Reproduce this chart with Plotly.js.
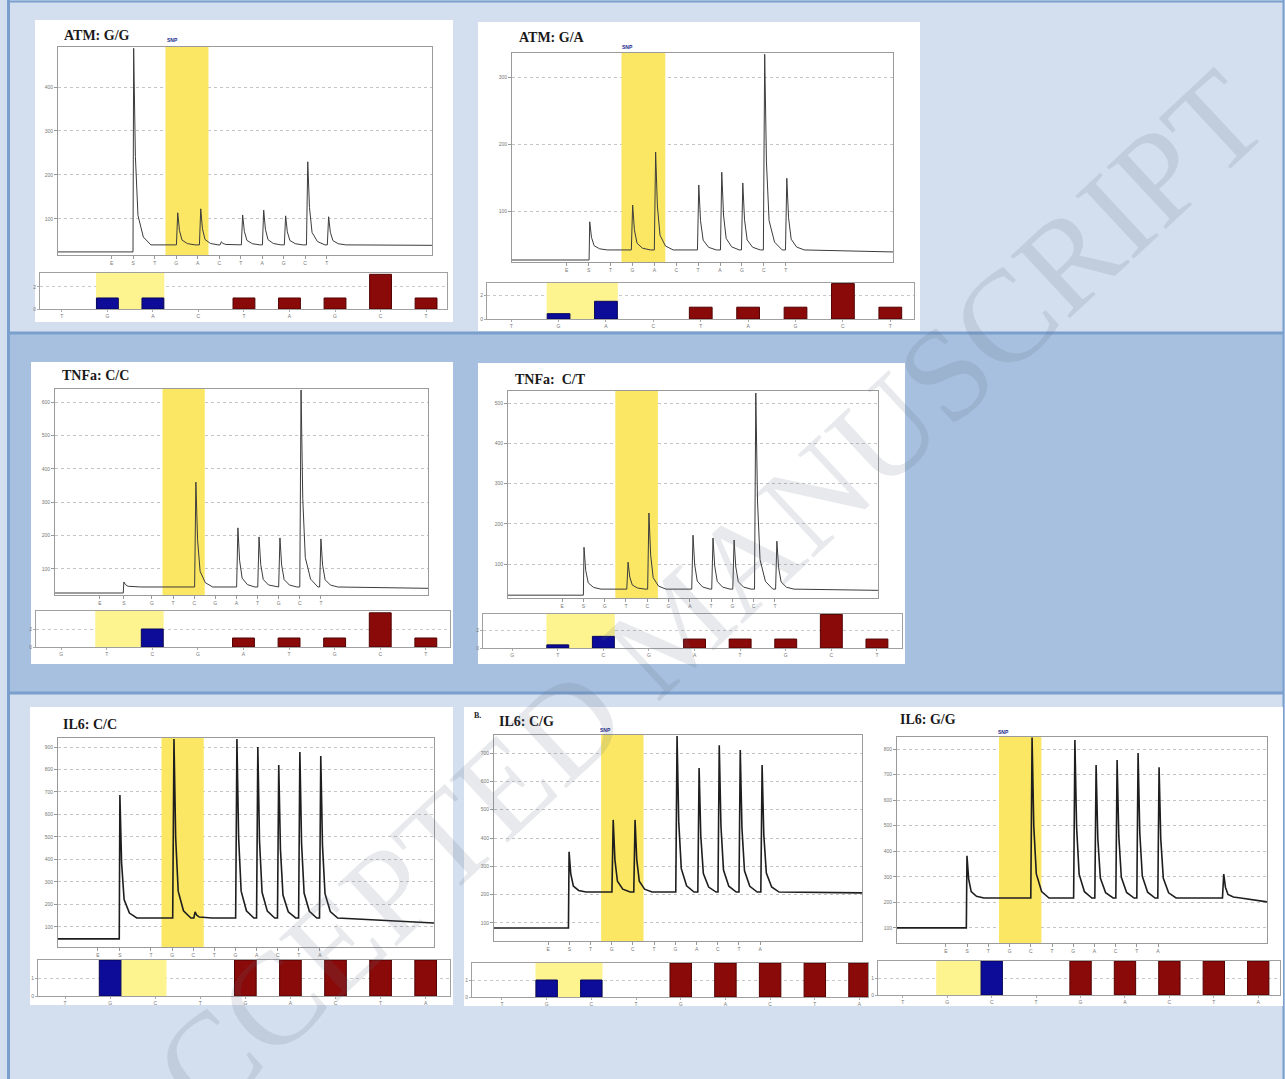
<!DOCTYPE html>
<html><head><meta charset="utf-8">
<script src="https://cdn.plot.ly/plotly-3.0.1.min.js"></script>
<style>html,body{margin:0;padding:0;background:#d3dfee}#chart{width:1285px;height:1079px}</style>
</head><body><div id="chart"></div>
<script>
// ---------- DATA ----------
const titles = ["ATM: G/G", "ATM: G/A", "TNFa: C/C", "TNFa:  C/T", "IL6: C/C", "IL6: C/G", "IL6: G/G"];
const atmLetters = ["E", "S", "T", "G", "A", "C", "T", "A", "G", "C", "T"];
const tnfLetters = ["E", "S", "G", "T", "C", "G", "A", "T", "G", "C", "T"];
const il6Letters = ["E", "S", "T", "G", "C", "T", "G", "A", "C", "T", "A"];

// highlighted SNP window: pyrogram dispensation index range, and histogram category range
const snpWindow = [2.5, 4.5];
const barWindow = [0.75, 2.25];

// pyrogram tick positions (dispensation index)
const stdTicks = [0, 1, 2, 3, 4, 5, 6, 7, 8, 9, 10];
const tnfCCTicks = [-0.46, 0.67, 2, 3, 4, 5, 6, 7, 8, 9, 10];
const il6CCTicks = [-0.51, 0.53, 2, 3, 4, 5, 6, 7, 8, 9, 10];

// pyrogram peaks: positions and heights; levels = [pre-baseline, baseline, end baseline]
const p1PeakX = [1.02, 3.07, 4.14, 5.1, 6.09, 7.07, 8.09, 9.12, 10.09];
const p1PeakY = [488, 114, 123, 48, 109, 120, 107, 230, 105];
const p1Levels = [25, 41, 40];
const p1YTicks = [100, 200, 300, 400];

const p2PeakX = [1.05, 3.01, 4.06, 6.03, 7.08, 8.04, 9.04, 10.05];
const p2PeakY = [84, 109, 188, 139, 158, 142, 334, 149];
const p2Levels = [27, 42, 39];
const p2YTicks = [100, 200, 300];

const p3PeakX = [0.67, 4.08, 6.07, 7.07, 8.06, 9.06, 10.0];
const p3PeakY = [61, 360, 223, 196, 193, 636, 190];
const p3Levels = [28, 46, 42];
const p3YTicks = [100, 200, 300, 400, 500, 600];

const p4PeakX = [1.03, 3.1, 4.08, 6.15, 7.09, 8.08, 9.1, 10.09];
const p4PeakY = [142, 105, 227, 172, 165, 160, 525, 157];
const p4Levels = [23, 38, 35];
const p4YTicks = [100, 200, 300, 400, 500];

const p5PeakX = [0.53, 3.09, 4.09, 6.07, 7.06, 8.05, 9.05, 10.04];
const p5PeakY = [687, 935, 167, 935, 900, 820, 878, 860];
const p5Levels = [47, 140, 118];
const p5YTicks = [100, 200, 300, 400, 500, 600, 700, 800, 900];

const p6PeakX = [0.99, 3.07, 4.1, 6.08, 7.12, 8.07, 9.06, 10.09];
const p6PeakY = [351, 464, 464, 760, 647, 728, 711, 658];
const p6Levels = [82, 209, 206];
const p6YTicks = [100, 200, 300, 400, 500, 600, 700];

const p7PeakX = [0.99, 4.06, 6.08, 7.08, 8.07, 9.06, 10.05, 13.1];
const p7PeakY = [382, 845, 835, 737, 757, 784, 729, 311];
const p7Levels = [100, 217, 202];
const p7YTicks = [100, 200, 300, 400, 500, 600, 700, 800];

// histogram bars (9 dispensations each)
const p1Bars = [0, 1, 1, 0, 1, 1, 1, 3.15, 1];
const p2Bars = [0, 0.45, 1.5, 0, 1, 1, 1, 3, 1];
const p3Bars = [0, 0, 2, 0, 1, 1, 1, 3.8, 1];
const p4Bars = [0, 0.35, 1.3, 0, 1, 1, 1, 3.75, 1];
const p5Bars = [0, 2, 0, 0, 2, 2, 2, 2, 2];
const p6Bars = [0, 1, 1, 0, 2, 2, 2, 2, 2];
const p7Bars = [0, 0, 2, 0, 2, 2, 2, 2, 2];
const barGrid = [2, 2, 2, 2, 1, 1, 1];

// ---------- LAYOUT GEOMETRY ----------
const W = 1285, H = 1079;
const xd = (a, b) => [a / W, b / W];
const yd = (a, b) => [1 - b / H, 1 - a / H];

const panels = [
  {peakX: p1PeakX, peakY: p1PeakY, lv: p1Levels, yt: p1YTicks, ticks: stdTicks, letters: atmLetters, bars: p1Bars,
   box: [35, 20, 453, 322], pyro: [58, 47, 432, 255], bar: [40, 273, 447, 309], xr: [-2.5, 14.9], yr: [18, 491], br: [-0.48, 8.46], byr: [0, 3.27], title: [62, 35], snp: [172, 40]},
  {peakX: p2PeakX, peakY: p2PeakY, lv: p2Levels, yt: p2YTicks, ticks: stdTicks, letters: atmLetters, bars: p2Bars,
   box: [478, 22, 920, 331], pyro: [512, 53, 893, 262], bar: [487, 283, 914, 319], xr: [-2.5, 14.9], yr: [24, 336], br: [-0.51, 8.5], byr: [0, 3.05], title: [517, 38], snp: [627, 47]},
  {peakX: p3PeakX, peakY: p3PeakY, lv: p3Levels, yt: p3YTicks, ticks: tnfCCTicks, letters: tnfLetters, bars: p3Bars,
   box: [31, 362, 453, 664], pyro: [55, 389, 428, 595], bar: [36, 611, 450, 647], xr: [-2.59, 15.07], yr: [22, 639], br: [-0.55, 8.53], byr: [0, 4], title: [60, 376]},
  {peakX: p4PeakX, peakY: p4PeakY, lv: p4Levels, yt: p4YTicks, ticks: stdTicks, letters: tnfLetters, bars: p4Bars,
   box: [478, 363, 905, 664], pyro: [508, 391, 878, 598], bar: [483, 614, 902, 648], xr: [-2.54, 14.84], yr: [16, 530], br: [-0.64, 8.55], byr: [0, 3.8], title: [513, 379]},
  {peakX: p5PeakX, peakY: p5PeakY, lv: p5Levels, yt: p5YTicks, ticks: il6CCTicks, letters: il6Letters, bars: p5Bars,
   box: [30, 707, 453, 1005], pyro: [58, 738, 434, 947], bar: [38, 960, 450, 996], xr: [-2.4, 15.4], yr: [11, 940], br: [-0.6, 8.54], byr: [0, 2], title: [61, 724], noisy: true},
  {peakX: p6PeakX, peakY: p6PeakY, lv: p6Levels, yt: p6YTicks, ticks: stdTicks, letters: il6Letters, bars: p6Bars,
   box: [464, 707, 868, 1006], pyro: [494, 735, 862, 941], bar: [472, 963, 868, 997], xr: [-2.55, 14.8], yr: [36, 764], br: [-0.67, 8.19], byr: [0, 2], title: [497, 721], snp: [605, 730], noisy: true},
  {peakX: p7PeakX, peakY: p7PeakY, lv: p7Levels, yt: p7YTicks, ticks: stdTicks, letters: il6Letters, bars: p7Bars,
   box: [868, 707, 1283, 1006], pyro: [897, 737, 1267, 943], bar: [878, 961, 1280, 995], xr: [-2.31, 15.14], yr: [41, 847], br: [-0.56, 8.49], byr: [0, 2], title: [898, 719], snp: [1003, 732], noisy: true}
];

// peak outline built from each read peak (rise, top, decay back to baseline)
function pyroLine(px, py, lv, xr) {
  const pre = lv[0], base = lv[1], end = lv[2];
  const xs = [xr[0], px[0] - 0.03], ys = [pre, pre];
  const off = [0.08, 0.2, 0.45, 0.8], fr = [0.45, 0.15, 0.04, 0];
  for (let k = 0; k < px.length; k++) {
    if (k > 0) { xs.push(px[k] - 0.06); ys.push(base); }
    xs.push(px[k]); ys.push(py[k]);
    for (let j = 0; j < off.length; j++) { xs.push(px[k] + off[j]); ys.push(base + fr[j] * (py[k] - base)); }
  }
  xs.push(xr[1]); ys.push(end);
  return {xs, ys};
}

const traces = [];
const layout = {
  width: W, height: H, margin: {l: 0, r: 0, t: 0, b: 0},
  paper_bgcolor: '#d3dfee', plot_bgcolor: '#ffffff', showlegend: false, barmode: 'overlay',
  font: {family: 'Liberation Sans, Arial, sans-serif', color: '#777', size: 5},
  shapes: [], annotations: []
};

// background bands and borders
layout.shapes.push({type: 'rect', xref: 'paper', yref: 'paper', x0: 9 / W, x1: 1283 / W, y0: 1 - 693 / H, y1: 1 - 333 / H, fillcolor: '#a7c0df', line: {width: 0}, layer: 'below'});
[333, 693].forEach(py => layout.shapes.push({type: 'line', xref: 'paper', yref: 'paper', x0: 8 / W, x1: 1284 / W, y0: 1 - py / H, y1: 1 - py / H, line: {color: '#7b9fcd', width: 3}, layer: 'below'}));
layout.shapes.push({type: 'line', xref: 'paper', yref: 'paper', x0: 8.5 / W, x1: 8.5 / W, y0: 0, y1: 1, line: {color: '#7b9fcd', width: 3}, layer: 'below'});
layout.shapes.push({type: 'line', xref: 'paper', yref: 'paper', x0: 1283.5 / W, x1: 1283.5 / W, y0: 0, y1: 1, line: {color: '#7b9fcd', width: 2}, layer: 'below'});
layout.shapes.push({type: 'line', xref: 'paper', yref: 'paper', x0: 8 / W, x1: 1284 / W, y0: 1 - 1.5 / H, y1: 1 - 1.5 / H, line: {color: '#7b9fcd', width: 2}, layer: 'below'});

panels.forEach((p, i) => {
  const a = 2 * i + 1, b = 2 * i + 2;
  const xa = a === 1 ? 'xaxis' : 'xaxis' + a, ya = a === 1 ? 'yaxis' : 'yaxis' + a;
  const xb = 'xaxis' + b, yb = 'yaxis' + b;
  const xr_ = a === 1 ? 'x' : 'x' + a, yr_ = a === 1 ? 'y' : 'y' + a;

  // white panel
  layout.shapes.push({type: 'rect', xref: 'paper', yref: 'paper', x0: p.box[0] / W, x1: p.box[2] / W, y0: 1 - p.box[3] / H, y1: 1 - p.box[1] / H, fillcolor: '#ffffff', line: {width: 0}, layer: 'below'});

  // pyrogram: yellow SNP window (bar spanning the full axis height), then the trace
  traces.push({type: 'bar', x: [(snpWindow[0] + snpWindow[1]) / 2], y: [p.yr[1] - p.yr[0]], base: [p.yr[0]], width: [snpWindow[1] - snpWindow[0]],
    xaxis: xr_, yaxis: yr_, marker: {color: '#fbe763', line: {width: 0}}, hoverinfo: 'skip'});
  const L = pyroLine(p.peakX, p.peakY, p.lv, p.xr);
  traces.push({type: 'scatter', mode: 'lines', x: L.xs, y: L.ys, xaxis: xr_, yaxis: yr_,
    line: {color: p.noisy ? '#1e1e1e' : '#3c3c3c', width: p.noisy ? 1.6 : 1}, hoverinfo: 'skip'});
  layout[xa] = {domain: xd(p.pyro[0], p.pyro[2]), range: p.xr, anchor: yr_, showgrid: false, zeroline: false,
    showline: true, mirror: true, linecolor: '#9a9a9a', linewidth: 1, ticks: 'outside', ticklen: 3, tickcolor: '#999',
    tickvals: p.ticks, ticktext: p.letters, tickfont: {size: 5, color: '#777'}};
  layout[ya] = {domain: yd(p.pyro[1], p.pyro[3]), range: p.yr, anchor: xr_, zeroline: false,
    showline: true, mirror: true, linecolor: '#9a9a9a', linewidth: 1, ticks: 'outside', ticklen: 3, tickcolor: '#999',
    tickvals: p.yt, showgrid: true, gridcolor: '#c4c4c4', griddash: 'dot', tickfont: {size: 5, color: '#777'}};

  // histogram: yellow window first, then bars
  traces.push({type: 'bar', x: [(barWindow[0] + barWindow[1]) / 2], y: [p.byr[1]], width: [barWindow[1] - barWindow[0]],
    xaxis: 'x' + b, yaxis: 'y' + b, marker: {color: '#fdf38f', line: {width: 0}}, hoverinfo: 'skip'});
  const cats = [0, 1, 2, 3, 4, 5, 6, 7, 8];
  traces.push({type: 'bar', x: cats, y: p.bars, xaxis: 'x' + b, yaxis: 'y' + b, width: 0.48,
    marker: {color: cats.map(c => (c === 1 || c === 2) ? '#0c0c98' : '#8a0a0a'),
             line: {color: cats.map(c => (c === 1 || c === 2) ? '#05055e' : '#520000'), width: p.bars.map(v => v > 0 ? 1 : 0)}}, hoverinfo: 'skip'});
  layout[xb] = {domain: xd(p.bar[0], p.bar[2]), range: p.br, anchor: 'y' + b, showgrid: false, zeroline: false,
    showline: true, mirror: true, linecolor: '#a0a0a0', linewidth: 1, ticks: 'outside', ticklen: 2, tickcolor: '#aaa',
    tickvals: cats, ticktext: p.letters.slice(2), tickfont: {size: 5, color: '#777'}};
  layout[yb] = {domain: yd(p.bar[1], p.bar[3]), range: p.byr, anchor: 'x' + b, zeroline: false,
    showline: true, mirror: true, linecolor: '#a0a0a0', linewidth: 1, ticks: 'outside', ticklen: 2, tickcolor: '#aaa',
    tickvals: [0, barGrid[i]], showgrid: true, gridcolor: '#c8c8c8', griddash: 'dot', tickfont: {size: 5, color: '#777'}};

  // title
  layout.annotations.push({text: '<b>' + titles[i] + '</b>', xref: 'paper', yref: 'paper', x: p.title[0] / W, y: 1 - p.title[1] / H,
    xanchor: 'left', yanchor: 'middle', showarrow: false, font: {family: 'Liberation Serif, serif', size: 14, color: '#1a1a1a'}});
  if (p.snp) layout.annotations.push({text: '<b>SNP</b>', xref: 'paper', yref: 'paper', x: p.snp[0] / W, y: 1 - p.snp[1] / H,
    xanchor: 'center', yanchor: 'middle', showarrow: false, font: {size: 5, color: '#1b2b8c'}});
});

layout.annotations.push({text: '<b>B.</b>', xref: 'paper', yref: 'paper', x: 472 / W, y: 1 - 715 / H, xanchor: 'left', yanchor: 'middle',
  showarrow: false, font: {family: 'Liberation Serif, serif', size: 8, color: '#1a1a1a'}});

// watermark
layout.annotations.push({text: 'ACCEPTED MANUSCRIPT', xref: 'paper', yref: 'paper', x: 675 / W, y: 1 - 625 / H, xanchor: 'center', yanchor: 'middle',
  textangle: -43, showarrow: false, font: {family: 'Liberation Serif, serif', size: 131, color: 'rgba(95,110,125,0.15)'}});

Plotly.newPlot('chart', traces, layout, {displayModeBar: false, staticPlot: true});
</script></body></html>
